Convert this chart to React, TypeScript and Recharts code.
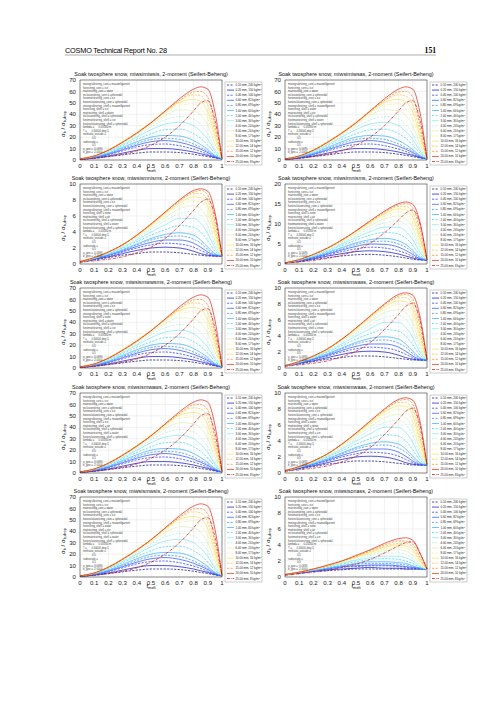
import { CartesianGrid, Line, LineChart, XAxis, YAxis } from 'recharts';

// melt fraction sampling points (x axis)
const fMelt = [0, 0.1, 0.2, 0.3, 0.4, 0.5, 0.6, 0.7, 0.8, 0.85, 0.9, 0.95, 1];
const xTicks = [0, 0.1, 0.2, 0.3, 0.4, 0.5, 0.6, 0.7, 0.8, 0.9, 1];

// legend entries: diameter and density of the snow particles
const diameters = ['0.10', '0.20', '0.40', '0.60', '0.80', '1.00', '2.00', '3.00', '4.00', '6.00', '8.00', '10.00', '12.00', '15.00', '20.00', '25.00'];
const densities = [240, 150, 100, 82, 69, 60, 40, 30, 24, 20, 17, 16, 14, 12, 10, 8];

const lineColors = [
  '#14148c', '#1e1ec8', '#2b3cff', '#2f5cff', '#3a8cff', '#3fb4ff', '#48d6ff', '#86e8f2',
  '#b4f0dc', '#def2b4', '#f6f094', '#ffe25c', '#ffc43c', '#ff8c22', '#e62c1e', '#cc1c1c',
];
const lineStyles = [
  'dash', 'solid', 'dash', 'solid', 'dash', 'solid', 'dash', 'solid',
  'dash', 'solid', 'dash', 'solid', 'dash', 'dash', 'solid', 'dashdot',
];

// sigma_b / sigma_b,drop, one row per diameter (same order as diameters)
const ratioTall = [
  [0.5, 1.5, 3, 4.5, 6, 7, 7, 6.5, 5, 4, 3, 1.8, 1],
  [0.5, 1.8, 3.5, 6, 8.5, 10, 10, 9, 7, 5.5, 4, 2.2, 1],
  [0.6, 2, 4.5, 8, 11.5, 13.5, 14, 12.5, 9.5, 7.5, 5, 2.5, 1],
  [0.7, 2.2, 5, 9, 13, 16, 17, 15.5, 12, 9.5, 6.5, 3, 1],
  [0.7, 2.5, 5.5, 10, 14.5, 18, 19, 18, 14, 11, 7.5, 3.5, 1],
  [0.8, 2.8, 6, 11, 16, 20, 21.5, 21, 17, 13.5, 9, 4, 1],
  [0.8, 3, 7, 12.5, 18, 23, 26.5, 27, 23, 19, 13, 6, 1],
  [0.9, 3.2, 7.5, 13.5, 20, 26.5, 31.5, 33, 30, 25, 18, 8, 1],
  [1, 3.4, 8, 14, 21, 29, 35, 38, 36, 31, 23, 10, 1],
  [1, 3.5, 8.5, 15, 22.5, 31, 39, 44, 43, 39, 30, 14, 1],
  [1, 3.6, 8.8, 15.5, 23.5, 32, 41, 48, 49, 45, 36, 18, 1],
  [1, 3.6, 9, 16, 24, 33, 42, 50.5, 53, 51, 42, 21, 1],
  [1, 3.6, 9, 16, 24, 33, 43, 52, 57, 56, 48, 25, 1],
  [1, 3.5, 8.5, 15.5, 23.5, 32.5, 42.5, 52, 59.5, 60, 55, 30, 1],
  [1, 3.5, 8.5, 15.5, 23.5, 32.5, 43, 53.5, 62, 64, 62, 42, 1],
  [0.5, 1.5, 3, 5, 8, 13, 20, 30, 43, 50, 52, 35, 1],
];

const ratioMid10 = [
  [0.3, 0.5, 0.8, 1.1, 1.3, 1.5, 1.5, 1.4, 1.2, 1.1, 1.0, 1.0, 1],
  [0.3, 0.6, 0.9, 1.3, 1.7, 2.0, 2.1, 2.0, 1.6, 1.3, 1.1, 1.0, 1],
  [0.3, 0.6, 1.0, 1.5, 2.0, 2.4, 2.6, 2.5, 2.1, 1.7, 1.3, 1.0, 1],
  [0.3, 0.6, 1.1, 1.6, 2.2, 2.7, 3.0, 3.0, 2.6, 2.1, 1.5, 1.1, 1],
  [0.3, 0.7, 1.1, 1.7, 2.4, 3.0, 3.4, 3.5, 3.1, 2.6, 1.8, 1.2, 1],
  [0.3, 0.7, 1.2, 1.8, 2.5, 3.2, 3.7, 3.9, 3.6, 3.0, 2.1, 1.3, 1],
  [0.3, 0.7, 1.3, 2.0, 2.8, 3.6, 4.3, 4.8, 4.6, 4.0, 2.9, 1.6, 1],
  [0.3, 0.7, 1.3, 2.1, 3.0, 4.0, 4.9, 5.7, 5.7, 5.1, 3.8, 2.0, 1],
  [0.3, 0.8, 1.4, 2.2, 3.2, 4.3, 5.4, 6.3, 6.6, 6.1, 4.7, 2.4, 1],
  [0.3, 0.8, 1.4, 2.3, 3.4, 4.6, 5.8, 6.9, 7.3, 6.9, 5.6, 2.9, 1],
  [0.3, 0.8, 1.5, 2.4, 3.5, 4.8, 6.1, 7.3, 7.9, 7.7, 6.4, 3.4, 1],
  [0.3, 0.8, 1.5, 2.4, 3.6, 4.9, 6.3, 7.6, 8.4, 8.3, 7.2, 3.9, 1],
  [0.3, 0.8, 1.5, 2.4, 3.6, 4.9, 6.4, 7.8, 8.8, 8.8, 7.9, 4.5, 1],
  [0.3, 0.8, 1.5, 2.4, 3.6, 5.0, 6.5, 7.9, 9.0, 9.2, 8.6, 5.3, 1],
  [0.3, 0.8, 1.5, 2.4, 3.6, 5.0, 6.5, 8.0, 9.2, 9.4, 9.1, 6.5, 1],
  [0.2, 0.4, 0.6, 0.9, 1.4, 2.1, 3.2, 4.8, 6.7, 7.7, 8.1, 6.0, 1],
];

const ratioMid20 = [
  [0.3, 0.6, 1.1, 1.6, 2.0, 2.3, 2.4, 2.2, 1.8, 1.5, 1.2, 1.0, 1],
  [0.3, 0.7, 1.3, 2.0, 2.6, 3.1, 3.3, 3.1, 2.5, 2.0, 1.5, 1.1, 1],
  [0.3, 0.8, 1.5, 2.3, 3.1, 3.8, 4.2, 4.0, 3.3, 2.7, 1.9, 1.2, 1],
  [0.3, 0.8, 1.6, 2.5, 3.5, 4.4, 5.0, 4.9, 4.2, 3.4, 2.4, 1.3, 1],
  [0.3, 0.9, 1.7, 2.7, 3.8, 4.9, 5.6, 5.7, 5.0, 4.2, 2.9, 1.5, 1],
  [0.3, 0.9, 1.8, 2.9, 4.1, 5.3, 6.1, 6.4, 5.8, 4.9, 3.4, 1.7, 1],
  [0.3, 1.0, 2.0, 3.2, 4.6, 6.0, 7.2, 7.9, 7.5, 6.5, 4.7, 2.2, 1],
  [0.3, 1.0, 2.1, 3.4, 5.0, 6.6, 8.1, 9.2, 9.2, 8.2, 6.1, 2.9, 1],
  [0.3, 1.0, 2.2, 3.6, 5.3, 7.1, 8.9, 10.3, 10.7, 9.8, 7.5, 3.6, 1],
  [0.3, 1.1, 2.3, 3.8, 5.6, 7.6, 9.6, 11.3, 12.0, 11.3, 9.0, 4.5, 1],
  [0.3, 1.1, 2.3, 3.9, 5.8, 7.9, 10.1, 12.0, 13.0, 12.6, 10.4, 5.4, 1],
  [0.3, 1.1, 2.4, 4.0, 5.9, 8.1, 10.4, 12.5, 13.8, 13.6, 11.7, 6.3, 1],
  [0.3, 1.1, 2.4, 4.0, 6.0, 8.2, 10.6, 12.8, 14.4, 14.4, 12.8, 7.2, 1],
  [0.3, 1.1, 2.4, 4.0, 6.0, 8.3, 10.7, 13.0, 14.8, 15.1, 14.0, 8.5, 1],
  [0.3, 1.1, 2.4, 4.0, 6.0, 8.3, 10.8, 13.2, 15.1, 15.5, 14.9, 10.5, 1],
  [0.2, 0.5, 0.9, 1.4, 2.2, 3.4, 5.2, 7.8, 11.0, 12.7, 13.5, 10.0, 1],
];

const ratioLow10 = [
  [0.3, 0.5, 0.7, 0.8, 0.9, 1.0, 1.0, 1.0, 1.0, 1.0, 1.0, 1.0, 1],
  [0.3, 0.5, 0.7, 0.9, 1.0, 1.1, 1.2, 1.1, 1.1, 1.0, 1.0, 1.0, 1],
  [0.3, 0.5, 0.8, 1.0, 1.2, 1.3, 1.4, 1.4, 1.3, 1.2, 1.1, 1.0, 1],
  [0.3, 0.5, 0.8, 1.0, 1.3, 1.4, 1.5, 1.5, 1.4, 1.3, 1.2, 1.1, 1],
  [0.3, 0.6, 0.8, 1.1, 1.4, 1.6, 1.7, 1.7, 1.6, 1.5, 1.3, 1.1, 1],
  [0.3, 0.6, 0.8, 1.1, 1.4, 1.7, 1.9, 1.9, 1.8, 1.7, 1.4, 1.1, 1],
  [0.3, 0.6, 0.9, 1.2, 1.6, 1.9, 2.2, 2.3, 2.2, 2.0, 1.7, 1.2, 1],
  [0.3, 0.6, 0.9, 1.3, 1.7, 2.1, 2.4, 2.6, 2.6, 2.4, 2.0, 1.3, 1],
  [0.3, 0.6, 0.9, 1.3, 1.8, 2.2, 2.7, 3.0, 3.0, 2.8, 2.3, 1.4, 1],
  [0.3, 0.6, 1.0, 1.4, 1.9, 2.4, 2.9, 3.3, 3.4, 3.2, 2.7, 1.6, 1],
  [0.3, 0.6, 1.0, 1.4, 1.9, 2.5, 3.0, 3.5, 3.7, 3.6, 3.1, 1.8, 1],
  [0.3, 0.6, 1.0, 1.4, 2.0, 2.5, 3.1, 3.7, 4.0, 3.9, 3.4, 2.0, 1],
  [0.3, 0.6, 1.0, 1.4, 2.0, 2.6, 3.2, 3.8, 4.2, 4.2, 3.8, 2.2, 1],
  [0.3, 0.6, 1.0, 1.4, 2.0, 2.6, 3.3, 4.0, 4.5, 4.5, 4.1, 2.5, 1],
  [0.3, 0.6, 1.0, 1.5, 2.0, 2.7, 3.4, 4.2, 4.8, 4.9, 4.6, 3.0, 1],
  [0.2, 0.4, 0.6, 0.8, 1.2, 1.6, 2.2, 3.0, 3.9, 4.3, 4.4, 3.0, 1],
];

const ticks70 = [0, 10, 20, 30, 40, 50, 60, 70];
const ticks10 = [0, 2, 4, 6, 8, 10];
const ticks20 = [0, 5, 10, 15, 20];

const panelTitles = [
  'miwsimiwsis', 'miwsimiwsas', 'miwsismnisms', 'miwsimnisms', 'miwsismwwsms',
  'miwsismwass', 'miwsismwaws', 'miwsismwaas', 'miwsismwsis', 'miwsisonass',
];
const panelData = [ratioTall, ratioTall, ratioMid10, ratioMid20, ratioTall, ratioMid10, ratioTall, ratioMid10, ratioTall, ratioLow10];
const panelTicks = [ticks70, ticks70, ticks10, ticks20, ticks70, ticks10, ticks70, ticks10, ticks70, ticks10];
// shell settings printed in the text box: host, matrix, hostmatrix
const shellHosts = ['ice', 'water', 'none', 'none', 'none', 'water', 'ice', 'water', 'water', 'none'];
const shellMatrix = ['water', 'ice', 'air', 'air', 'water', 'air', 'air', 'snow', 'ice', 'air'];
const shellHostMatrix = ['ice', 'water', 'water', 'water', 'ice', 'snow', 'water', 'ice', 'water', 'ice'];

const rowTops = [74, 178, 282, 387, 491];
const colLeft = [56, 261];
const PLOT_W = 142;
const FONT = '"Liberation Sans", Arial, sans-serif';

const dashFor = (style: string) =>
  style === 'dash' ? '2.2 1.3' : style === 'dashdot' ? '3 1 0.6 1' : undefined;

const fmtX = (v: number) => (v === 0 ? '0' : v === 1 ? '1' : String(v));

function Panel({ idx }: { idx: number }) {
  const row = Math.floor(idx / 2);
  const col = idx % 2;
  const T = rowTops[row];
  const series = panelData[idx];
  const yTicks = panelTicks[idx];
  const data = fMelt.map((f, i) => {
    const r: Record<string, number> = { f };
    series.forEach((s, k) => {
      r[`s${k}`] = s[i];
    });
    return r;
  });
  return (
    <div style={{ position: 'absolute', left: colLeft[col], top: T + 2 }}>
      <LineChart width={170} height={98} data={data} margin={{ top: 4, right: 4, bottom: 0, left: 4 }}>
        <CartesianGrid stroke="#e2e2e2" strokeWidth={0.5} />
        <XAxis
          dataKey="f"
          type="number"
          domain={[0, 1]}
          ticks={xTicks}
          tickFormatter={fmtX}
          interval={0}
          height={14}
          tickSize={2}
          tickLine={false}
          axisLine={false}
          tick={{ fontSize: 6.1, fill: '#1a1a1a', fontFamily: FONT }}
        />
        <YAxis
          type="number"
          domain={[0, yTicks[yTicks.length - 1]]}
          ticks={yTicks}
          interval={0}
          width={20}
          tickSize={2}
          tickLine={false}
          axisLine={false}
          allowDataOverflow
          tick={{ fontSize: 6.1, fill: '#1a1a1a', fontFamily: FONT }}
        />
        {series.map((_, k) => (
          <Line
            key={k}
            dataKey={`s${k}`}
            type="monotone"
            stroke={lineColors[k]}
            strokeWidth={0.75}
            strokeDasharray={dashFor(lineStyles[k])}
            dot={false}
            activeDot={false}
            isAnimationActive={false}
          />
        ))}
      </LineChart>
    </div>
  );
}

function Overlay() {
  const items: JSX.Element[] = [];
  for (let idx = 0; idx < 10; idx++) {
    const row = Math.floor(idx / 2);
    const col = idx % 2;
    const T = rowTops[row];
    const px = colLeft[col] + 24;
    const lines = [
      'mixingrulestring_core = maxwellgarnett',
      'hoststring_core = ice',
      'matrixstring_core = water',
      'inclusionstring_core = spheroidal',
      'hostmatrixstring_core = ice',
      'hostinclusionstring_core = spheroidal',
      'mixingrulestring_shell = maxwellgarnett',
      `hoststring_shell = ${shellHosts[idx]}`,
      `matrixstring_shell = ${shellMatrix[idx]}`,
      'inclusionstring_shell = spheroidal',
      `hostmatrixstring_shell = ${shellHostMatrix[idx]}`,
      'hostinclusionstring_shell = spheroidal',
      'lambda =      0.05500 m',
      'T =      0.00000 deg C',
      'meltratio_outside =',
      '            0.5',
      'radiusratio =',
      '            0.5',
      'a_geo =  0.0690',
      'b_geo =  2.0000',
    ];
    const lx = px + PLOT_W + 3;
    const ly = T + 8;
    items.push(
      <g key={idx}>
        <text x={px + PLOT_W / 2} y={T + 2} fontSize={5.4} textAnchor="middle" fontFamily={FONT} fill="#111">
          {`Soak twosphere snow, ${panelTitles[idx]}, 2-moment (Seifert-Beheng)`}
        </text>
        <rect x={px} y={T + 6} width={PLOT_W} height={80} fill="none" stroke="#222" strokeWidth={0.5} />
        <text
          transform={`translate(${px - 15},${T + 50}) rotate(-90)`}
          fontSize={6}
          textAnchor="middle"
          fontFamily={FONT}
        >
          σ<tspan fontSize={4} dy={1.2}>b</tspan>
          <tspan dy={-1.2}> / σ</tspan>
          <tspan fontSize={4} dy={1.2}>b,drop</tspan>
        </text>
        <text x={px + PLOT_W / 2} y={T + 97} fontSize={6} textAnchor="middle" fontFamily={FONT}>
          f<tspan fontSize={4} dy={1.4}>melt</tspan>
        </text>
        {lines.map((s, i) => (
          <text key={i} x={px + 3} y={T + 11 + i * 3.6} fontSize={2.7} fill="#444" fontFamily={FONT} xmlSpace="preserve">
            {s}
          </text>
        ))}
        <rect x={lx} y={ly} width={37} height={83} fill="#fff" stroke="#9a9a9a" strokeWidth={0.5} />
        {diameters.map((d, k) => {
          const yy = ly + 3 + k * 5.1;
          return (
            <g key={k}>
              <line
                x1={lx + 2}
                x2={lx + 9}
                y1={yy}
                y2={yy}
                stroke={lineColors[k]}
                strokeWidth={0.75}
                strokeDasharray={dashFor(lineStyles[k])}
              />
              <text x={lx + 10.5} y={yy + 1} fontSize={2.9} fill="#222" fontFamily={FONT}>
                {`${d} mm, ${densities[k]} kg/m`}
                <tspan fontSize={2} dy={-1}>3</tspan>
              </text>
            </g>
          );
        })}
      </g>,
    );
  }
  return (
    <svg
      width={504}
      height={712}
      style={{ position: 'absolute', left: 0, top: 0, pointerEvents: 'none' }}
    >
      <text x={65} y={52.5} fontSize={7.3} fontFamily={FONT} textLength={102}>
        COSMO Technical Report No. 28
      </text>
      <text x={436} y={52.5} fontSize={7.6} fontWeight="bold" textAnchor="end" fontFamily='"Liberation Serif", serif'>
        151
      </text>
      <line x1={65} x2={436} y1={55} y2={55} stroke="#777" strokeWidth={0.6} />
      {items}
    </svg>
  );
}

export default function App() {
  return (
    <div style={{ position: 'absolute', left: 0, top: 0, width: 504, height: 712, background: '#fff' }}>
      {Array.from({ length: 10 }, (_, i) => (
        <Panel key={i} idx={i} />
      ))}
      <Overlay />
    </div>
  );
}
